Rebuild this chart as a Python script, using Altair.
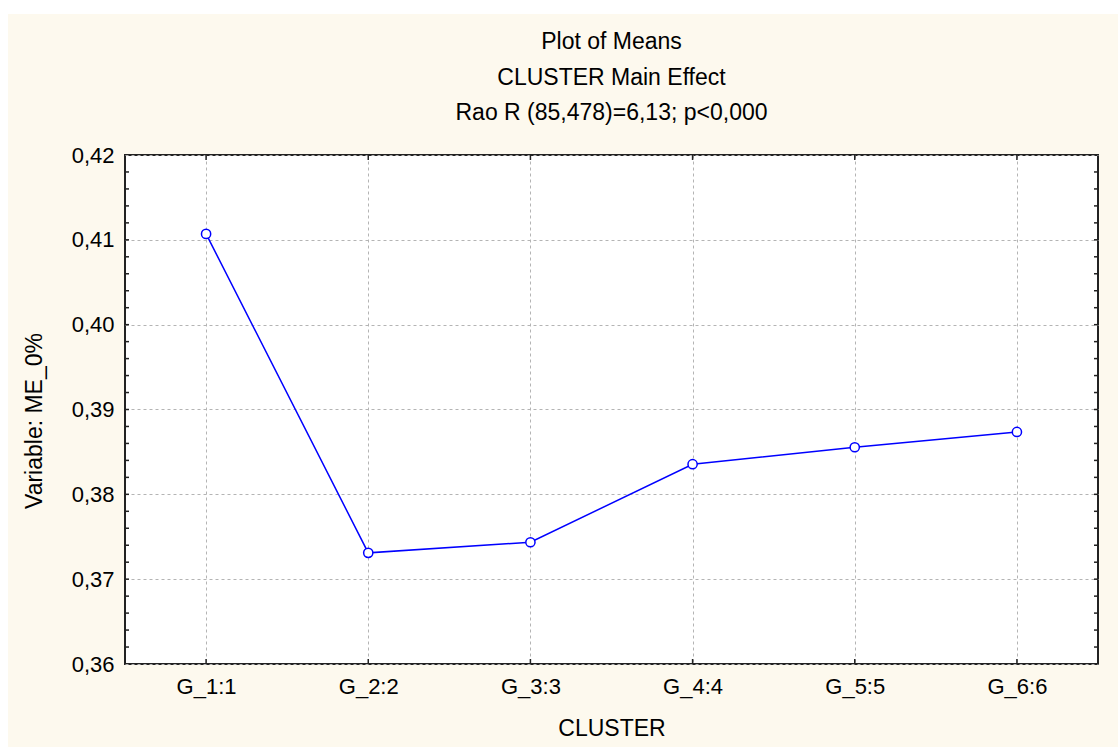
import altair as alt
import pandas as pd

# Group means of ME_0% per cluster
clusters = ["G_1:1", "G_2:2", "G_3:3", "G_4:4", "G_5:5", "G_6:6"]
means = [0.4107, 0.3731, 0.37435, 0.38355, 0.38555, 0.38735]

# Axis ticks
y_major = [0.36, 0.37, 0.38, 0.39, 0.40, 0.41, 0.42]
y_minor = [0.362, 0.364, 0.366, 0.368, 0.372, 0.374, 0.376, 0.378,
           0.382, 0.384, 0.386, 0.388, 0.392, 0.394, 0.396, 0.398,
           0.402, 0.404, 0.406, 0.408, 0.412, 0.414, 0.416, 0.418,
           0.37, 0.38, 0.39, 0.40, 0.41]

title_lines = ["Plot of Means", "CLUSTER Main Effect", "Rao R (85,478)=6,13; p<0,000"]
x_title = "CLUSTER"
y_title = "Variable: ME_0%"

FONT = "Liberation Sans"
FS = 22       # tick labels
TFS = 23      # titles
W, H = 973, 509
PAD = {"left": 125, "top": 155, "right": 20, "bottom": 83}
BLUE = "#0000FF"

df = pd.DataFrame({"cluster": clusters, "mean": means})
minor_df = pd.DataFrame({"mean": y_minor})
cat_df = pd.DataFrame({"cluster": clusters})
one = pd.DataFrame({"k": [0]})

x_scale = alt.Scale(type="point", domain=clusters, padding=0.5)
y_scale = alt.Scale(domain=[0.36, 0.42], nice=False, zero=False)

x_enc = alt.X("cluster:N", scale=x_scale, sort=clusters,
              axis=alt.Axis(title=x_title, labelAngle=0, labelPadding=12,
                            titlePadding=20))
y_enc = alt.Y("mean:Q", scale=y_scale,
              axis=alt.Axis(title=y_title, values=y_major,
                            labelExpr="replace(format(datum.value, '.2f'), '.', ',')",
                            labelPadding=11, titlePadding=25, titleY=H / 2 + 11))

line = alt.Chart(df).mark_line(color=BLUE, strokeWidth=1.5).encode(x=x_enc, y=y_enc)
points = alt.Chart(df).mark_point(shape="circle", size=85, filled=True, fill="white",
                                  stroke=BLUE, strokeWidth=1.5, opacity=1).encode(
    x=alt.X("cluster:N", scale=x_scale, sort=clusters),
    y=alt.Y("mean:Q", scale=y_scale))

# Inward tick marks on the frame
tick_color = "#222222"
left_ticks = alt.Chart(minor_df).mark_rule(color=tick_color, strokeWidth=1.5).encode(
    y=alt.Y("mean:Q", scale=y_scale), x=alt.value(0), x2=alt.value(4))
right_ticks = alt.Chart(minor_df).mark_rule(color=tick_color, strokeWidth=1.5).encode(
    y=alt.Y("mean:Q", scale=y_scale), x=alt.value(W - 4), x2=alt.value(W))
top_ticks = alt.Chart(cat_df).mark_rule(color=tick_color, strokeWidth=1.5).encode(
    x=alt.X("cluster:N", scale=x_scale, sort=clusters), y=alt.value(0), y2=alt.value(5))
bottom_ticks = alt.Chart(cat_df).mark_rule(color=tick_color, strokeWidth=1.5).encode(
    x=alt.X("cluster:N", scale=x_scale, sort=clusters), y=alt.value(H - 5), y2=alt.value(H))

# Three-line heading above the plot, centred over it
heading = alt.Chart(one).mark_text(
    text=title_lines, font=FONT, fontSize=TFS, color="black", align="center",
    baseline="alphabetic", lineHeight=35.7,
).encode(x=alt.value(W / 2), y=alt.value(49 - PAD["top"]))

# White margin strips along the top and left page edges
top_strip = alt.Chart(one).mark_rect(color="white").encode(
    x=alt.value(-PAD["left"]), x2=alt.value(W + PAD["right"]),
    y=alt.value(-PAD["top"]), y2=alt.value(-PAD["top"] + 14))
left_strip = alt.Chart(one).mark_rect(color="white").encode(
    x=alt.value(-PAD["left"]), x2=alt.value(-PAD["left"] + 8),
    y=alt.value(-PAD["top"]), y2=alt.value(H + PAD["bottom"]))

chart = alt.layer(
    top_strip, left_strip, heading, line, points,
    left_ticks, right_ticks, top_ticks, bottom_ticks
).properties(
    width=W, height=H,
    autosize=alt.AutoSizeParams(type="none"),
    padding=PAD,
    background="#FDF9EE",
).configure_view(
    fill="white", stroke="#222222", strokeWidth=2
).configure_axis(
    labelFont=FONT, labelFontSize=FS, labelColor="black",
    titleFont=FONT, titleFontSize=TFS, titleFontWeight="normal", titleColor="black",
    domain=False, ticks=False, grid=True, gridColor="#B4B4B4", gridDash=[3, 3],
    gridWidth=1,
)

chart.save("out.html", embed_options={"renderer": "svg", "actions": False})
